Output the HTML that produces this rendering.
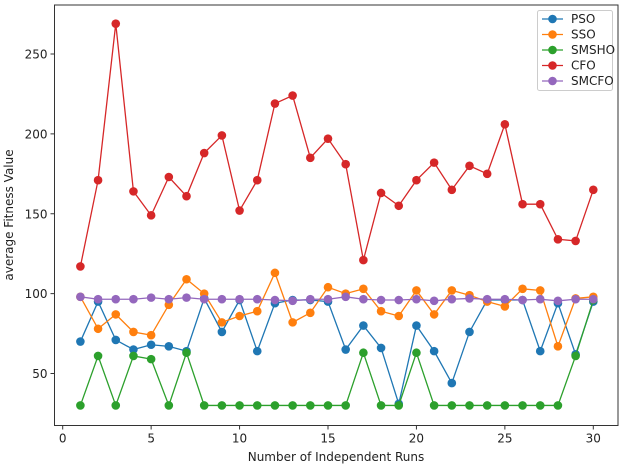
<!DOCTYPE html>
<html><head><meta charset="utf-8"><style>
body{margin:0;background:#fff;font-family:"Liberation Sans","DejaVu Sans",sans-serif}
svg text{font-family:"DejaVu Sans","Liberation Sans",sans-serif;font-size:12px;fill:#222}
</style></head><body>
<svg id="chart" width="624" height="468" xmlns="http://www.w3.org/2000/svg"></svg>
<script>
const runs=[1,2,3,4,5,6,7,8,9,10,11,12,13,14,15,16,17,18,19,20,21,22,23,24,25,26,27,28,29,30];
const pso=[70,95,71,65,68,67,64,97,76,96,64,94,96,96,95,65,80,66,31,80,64,44,76,96,96,96,64,94,62,95];
const sso=[98,78,87,76,74,93,109,100,82,86,89,113,82,88,104,100,103,89,86,102,87,102,99,95,92,103,102,67,97,98];
const smsho=[30,61,30,61,59,30,63,30,30,30,30,30,30,30,30,30,63,30,30,63,30,30,30,30,30,30,30,30,61,96];
const cfo=[117,171,269,164,149,173,161,188,199,152,171,219,224,185,197,181,121,163,155,171,182,165,180,175,206,156,156,134,133,165];
const smcfo=[98,96.5,96.5,96.5,97.5,96.5,97.5,96.5,96.5,96.5,96.5,96,95.5,96.5,96.5,98,96.5,96,96,96.5,95.5,96.5,97,96.5,96.5,96,96.5,95.5,96.5,96.5];
const seriesNames=["PSO","SSO","SMSHO","CFO","SMCFO"];
const xTicks=[0,5,10,15,20,25,30];
const yTicks=[50,100,150,200,250];
const colors=["#1f77b4","#ff7f0e","#2ca02c","#d62728","#9467bd"];
const NS="http://www.w3.org/2000/svg";
const svg=document.getElementById('chart');
const X=v=>62.7+v*(593.3-62.7)/30;
const Y=v=>373.5-(v-50)*(373.5-54)/200;
function el(t,a,p){const e=document.createElementNS(NS,t);for(const k in a)e.setAttribute(k,a[k]);(p||svg).appendChild(e);return e;}
const L=54.5,R=618,T=5,B=425.5;
const frame=el('rect',{x:L,y:T,width:R-L,height:B-T,fill:'none',stroke:'#333','stroke-width':1});


xTicks.forEach(t=>{
 const ln=el('line',{x1:X(t),x2:X(t),y1:B,y2:B+4,stroke:'#333'});
 
 
 const tx=el('text',{x:X(t),y:B+17,'text-anchor':'middle'});tx.textContent=t;
 
 
});
yTicks.forEach(t=>{
 const ln=el('line',{x1:L-4,x2:L,y1:Y(t),y2:Y(t),stroke:'#333'});
 
 
 const tx=el('text',{x:L-7,y:Y(t)+4.5,'text-anchor':'end'});tx.textContent=t;
 
 
});
const xt=el('text',{x:336,y:461,'text-anchor':'middle'});xt.textContent='Number of Independent Runs';


const yt=el('text',{x:13,y:215,'text-anchor':'middle',transform:'rotate(-90 13 215)'});yt.textContent='average Fitness Value';


[pso,sso,smsho,cfo,smcfo].forEach((d,i)=>{
 const g=el('g',{});
 
 
 const pl=el('polyline',{points:d.map((v,j)=>X(runs[j])+','+Y(v)).join(' '),fill:'none',stroke:colors[i],'stroke-width':1.3},g);
 
 
 d.forEach((v,j)=>{const c=el('circle',{cx:X(runs[j]),cy:Y(v),r:4.3,fill:colors[i]},g);
  
  });
});
const lg=el('g',{});


const lb=el('rect',{x:537.5,y:10.5,width:75,height:80,rx:2,fill:'#fff',stroke:'#ccc'},lg);


seriesNames.forEach((n,i)=>{
 const y=19+i*15.5;
 const e=el('g',{},lg);
 
 
 el('line',{x1:542,x2:563,y1:y,y2:y,stroke:colors[i],'stroke-width':1.3},e);
 el('circle',{cx:552.5,cy:y,r:4.3,fill:colors[i]},e);
 const t=el('text',{x:571,y:y+4,'font-size':'11'},e);t.textContent=n;
});
</script>
</body></html>
